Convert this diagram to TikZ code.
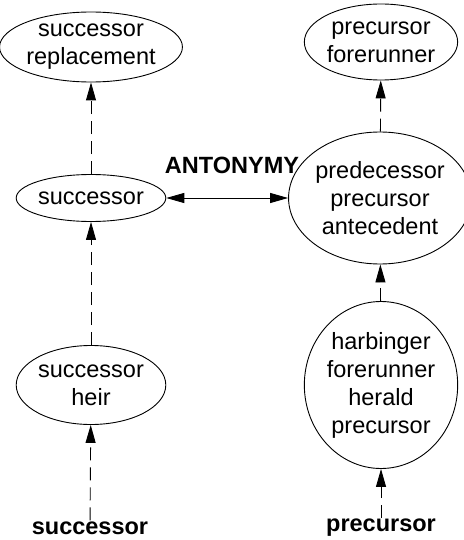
\documentclass[tikz,border=0pt]{standalone}
\usepackage{fontspec}
\setmainfont{Liberation Sans}
\usetikzlibrary{shapes.geometric,arrows.meta}
\begin{document}
\begin{tikzpicture}[x=1pt,y=-1pt,
  every node/.style={font=\fontsize{23.5}{28}\selectfont},
  syn/.style={ellipse,draw,line width=0.9pt,inner sep=0pt,align=center},
  lab/.style={font=\fontsize{23.5}{28}\selectfont\bfseries,inner sep=1pt},
  hyp/.style={line width=0.9pt,dash pattern=on 13pt off 7pt,-{Triangle[length=18pt,width=10pt]}},
  ant/.style={line width=0.9pt,{Triangle[length=18pt,width=10pt]}-{Triangle[length=18pt,width=10pt]}}]
\useasboundingbox (0,0) rectangle (463,540);
\node[syn,minimum width=168pt,minimum height=70pt] (rep) at (91,47) {successor\\replacement};
\node[syn,minimum width=148pt,minimum height=47pt] (succ) at (91,198) {successor};
\node[syn,minimum width=128pt,minimum height=79pt] (heir) at (91,385) {successor\\heir};
\node[syn,minimum width=144pt,minimum height=76pt] (fore) at (381,42) {precursor\\forerunner};
\node[syn,minimum width=164pt,minimum height=132pt] (pred) at (380,198) {predecessor\\precursor\\antecedent};
\node[syn,minimum width=145pt,minimum height=167pt] (harb) at (381,385) {harbinger\\forerunner\\herald\\precursor};
\node[lab] (lsucc) at (90,528) {successor};
\node[lab] (lprec) at (381,528) {precursor};
\node[lab] (antlab) at (232,165) {ANTONYMY};
\draw[hyp] (succ) -- (rep);
\draw[hyp] (heir) -- (succ);
\draw[hyp] (lsucc) -- (heir);
\draw[hyp] (pred) -- (fore);
\draw[hyp] (harb) -- (pred);
\draw[hyp] (lprec) -- (harb);
\draw[ant] (succ.east) -- (pred.west);
\end{tikzpicture}
\end{document}
